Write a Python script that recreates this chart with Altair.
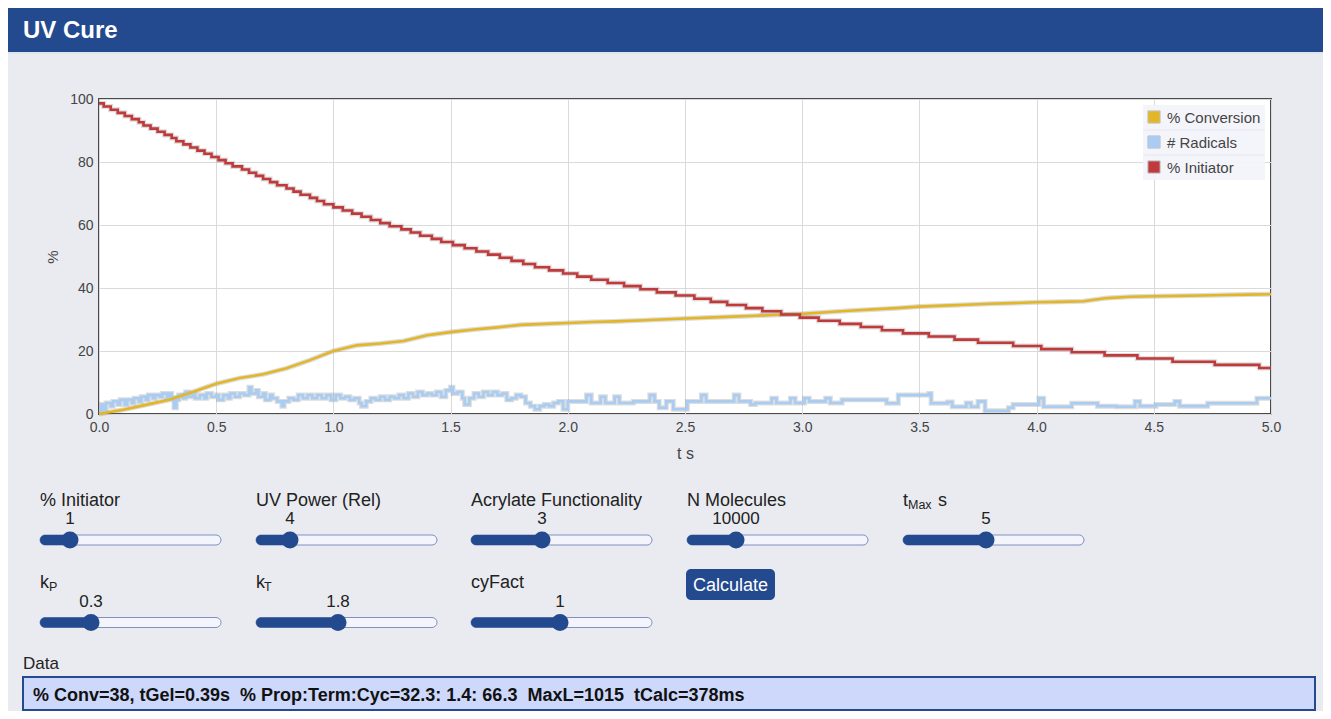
import altair as alt
import pandas as pd

# ---------------- data ----------------
series_names = ["% Conversion", "# Radicals", "% Initiator"]
series_colors = ["#e3b626", "#a8ccf2", "#c0393b"]

conv_points = [
    (0.0, 0.0), (0.1, 1.3), (0.2, 2.9), (0.3, 4.5), (0.4, 7.0), (0.5, 9.6),
    (0.6, 11.4), (0.7, 12.6), (0.8, 14.5), (0.9, 17.1), (1.0, 20.0),
    (1.1, 21.8), (1.2, 22.4), (1.3, 23.2), (1.4, 25.0), (1.5, 26.0),
    (1.6, 26.8), (1.7, 27.5), (1.8, 28.3), (1.9, 28.6), (2.0, 28.9),
    (2.1, 29.2), (2.2, 29.4), (2.3, 29.7), (2.4, 30.0), (2.5, 30.3),
    (2.6, 30.6), (2.7, 30.9), (2.8, 31.2), (2.9, 31.5), (3.0, 31.8),
    (3.1, 32.3), (3.2, 32.8), (3.3, 33.2), (3.4, 33.6), (3.5, 34.1),
    (3.6, 34.4), (3.7, 34.7), (3.8, 35.0), (3.9, 35.2), (4.0, 35.5),
    (4.1, 35.6), (4.2, 35.8), (4.3, 36.8), (4.4, 37.2), (4.5, 37.4),
    (4.6, 37.5), (4.7, 37.6), (4.8, 37.8), (4.9, 37.9), (5.0, 38.0),
]

rad_points = [
    (0.00, 1.0), (0.01, 3.0), (0.02, 1.5), (0.03, 3.5), (0.05, 2.5), (0.06, 4.0),
    (0.08, 3.0), (0.09, 4.5), (0.11, 3.0), (0.12, 4.5), (0.14, 3.5), (0.15, 5.0),
    (0.17, 4.0), (0.18, 5.5), (0.20, 4.5), (0.21, 6.0), (0.23, 5.0), (0.24, 6.0),
    (0.26, 5.5), (0.27, 6.5), (0.29, 5.0), (0.30, 6.5), (0.31, 5.0), (0.32, 2.0),
    (0.33, 4.5), (0.34, 6.0), (0.36, 5.0), (0.37, 7.0), (0.38, 5.5), (0.40, 6.5),
    (0.41, 5.0), (0.43, 6.0), (0.45, 5.0), (0.46, 6.5), (0.48, 5.5), (0.50, 6.0),
    (0.51, 4.5), (0.53, 6.0), (0.55, 5.0), (0.56, 6.5), (0.58, 5.5), (0.60, 6.5),
    (0.62, 6.0), (0.64, 8.5), (0.65, 6.5), (0.67, 7.5), (0.68, 5.5), (0.70, 6.5),
    (0.71, 4.5), (0.73, 6.0), (0.74, 5.0), (0.76, 4.0), (0.78, 2.5), (0.79, 4.0),
    (0.81, 5.0), (0.83, 4.5), (0.85, 6.0), (0.87, 5.0), (0.89, 6.0), (0.91, 5.0),
    (0.93, 6.0), (0.95, 5.0), (0.97, 6.0), (0.99, 4.5), (1.01, 6.0), (1.03, 5.0),
    (1.05, 5.5), (1.07, 4.5), (1.09, 5.0), (1.11, 3.5), (1.12, 2.5), (1.14, 4.0),
    (1.16, 5.0), (1.18, 4.5), (1.20, 5.5), (1.22, 4.5), (1.24, 5.5), (1.26, 5.0),
    (1.28, 6.0), (1.30, 5.0), (1.32, 6.5), (1.34, 5.5), (1.36, 7.0), (1.38, 6.0),
    (1.40, 6.5), (1.42, 6.0), (1.44, 7.0), (1.46, 5.5), (1.48, 7.5), (1.50, 8.5),
    (1.51, 6.5), (1.53, 7.0), (1.55, 5.0), (1.56, 3.0), (1.58, 5.0), (1.60, 6.5),
    (1.62, 5.5), (1.64, 7.0), (1.66, 6.0), (1.68, 7.0), (1.70, 6.0), (1.72, 6.5),
    (1.74, 4.5), (1.76, 5.0), (1.78, 6.0), (1.80, 5.5), (1.82, 3.5), (1.84, 2.5),
    (1.86, 1.5), (1.88, 2.5), (1.90, 3.0), (1.92, 2.5), (1.94, 3.5), (1.96, 4.0),
    (1.98, 1.5), (2.00, 4.0), (2.08, 6.0), (2.10, 3.5), (2.14, 5.5), (2.16, 3.5),
    (2.20, 5.5), (2.22, 3.5), (2.28, 4.0), (2.35, 6.0), (2.37, 4.0), (2.39, 2.0),
    (2.42, 4.0), (2.45, 1.5), (2.51, 4.0), (2.57, 6.0), (2.59, 4.0), (2.71, 6.0),
    (2.73, 4.0), (2.78, 3.0), (2.80, 3.5), (2.87, 5.0), (2.89, 3.5), (2.95, 5.0),
    (2.97, 3.5), (3.01, 5.0), (3.03, 4.0), (3.10, 5.0), (3.12, 3.5), (3.17, 4.5),
    (3.33, 4.5), (3.36, 3.4), (3.41, 6.0), (3.54, 6.5), (3.55, 3.4), (3.62, 3.8),
    (3.64, 2.3), (3.70, 3.5), (3.72, 2.3), (3.75, 4.0), (3.78, 1.0), (3.88, 2.0),
    (3.90, 3.0), (4.01, 5.0), (4.03, 2.3), (4.15, 3.4), (4.26, 2.5), (4.34, 2.3),
    (4.42, 4.0), (4.44, 2.5), (4.51, 3.0), (4.59, 4.0), (4.61, 2.5), (4.73, 3.4),
    (4.94, 5.0), (5.00, 5.0),
]

init_points = [
    (0.00, 98.6), (0.02, 97.6), (0.05, 96.6), (0.08, 95.6), (0.11, 94.6),
    (0.14, 93.6), (0.17, 92.6), (0.19, 91.6), (0.22, 90.6), (0.25, 89.6),
    (0.28, 88.6), (0.31, 87.6), (0.33, 86.6), (0.36, 85.6), (0.39, 84.6),
    (0.42, 83.6), (0.45, 82.6), (0.48, 81.6), (0.51, 80.6), (0.54, 79.6),
    (0.57, 78.6), (0.61, 77.6), (0.64, 76.6), (0.67, 75.6), (0.70, 74.6),
    (0.73, 73.6), (0.76, 72.6), (0.80, 71.6), (0.83, 70.6), (0.86, 69.6),
    (0.90, 68.6), (0.93, 67.6), (0.96, 66.6), (1.00, 65.6), (1.04, 64.6),
    (1.08, 63.6), (1.12, 62.6), (1.16, 61.6), (1.20, 60.6), (1.24, 59.6),
    (1.29, 58.6), (1.33, 57.6), (1.37, 56.6), (1.42, 55.6), (1.46, 54.6),
    (1.51, 53.6), (1.56, 52.6), (1.61, 51.6), (1.66, 50.6), (1.71, 49.6),
    (1.76, 48.6), (1.81, 47.6), (1.86, 46.6), (1.92, 45.6), (1.98, 44.6),
    (2.04, 43.6), (2.10, 42.6), (2.17, 41.6), (2.24, 40.6), (2.31, 39.6),
    (2.38, 38.6), (2.46, 37.6), (2.54, 36.6), (2.61, 35.6), (2.68, 34.6),
    (2.76, 33.6), (2.83, 32.6), (2.91, 31.6), (2.99, 30.6), (3.07, 29.6),
    (3.16, 28.6), (3.25, 27.6), (3.34, 26.6), (3.43, 25.6), (3.54, 24.6),
    (3.65, 23.6), (3.75, 22.6), (3.90, 21.6), (4.02, 20.6), (4.15, 19.6),
    (4.29, 18.6), (4.43, 17.6), (4.58, 16.6), (4.76, 15.6), (4.95, 14.6),
    (5.00, 14.6),
]

x_ticks = [0, 0.5, 1, 1.5, 2, 2.5, 3, 3.5, 4, 4.5, 5]
y_ticks = [0, 20, 40, 60, 80, 100]

page_title = "UV Cure"
slider_labels = ["% Initiator", "UV Power (Rel)", "Acrylate Functionality",
                 "N Molecules", "t", "k", "k", "cyFact"]
slider_subs = ["", "", "", "", "Max", "P", "T", ""]
slider_suffix = ["", "", "", "", "s", "", "", ""]
slider_values = ["1", "4", "3", "10000", "5", "0.3", "1.8", "1"]
button_text = "Calculate"
data_label = "Data"
data_text = "% Conv=38, tGel=0.39s\u00a0 % Prop:Term:Cyc=32.3: 1.4: 66.3\u00a0 MaxL=1015\u00a0 tCalc=378ms"

# ---------------- layout (page pixels) ----------------
OX, OY = 99, 99                 # page position of the plot origin
PLOT_W, PLOT_H = 1172, 315
TOTAL_W, TOTAL_H = 1315, 703
PAD_L, PAD_T = OX - 8, OY - 8

BLUE = "#234a8f"
FONT = "Liberation Sans"

slider_x0 = [40, 256, 471, 687, 903, 40, 256, 471]
slider_row = [0, 0, 0, 0, 0, 1, 1, 1]
slider_thumb = [70, 290, 542, 736, 986, 91, 338, 560]
sub_dx = [0, 0, 0, 0, 5, 9, 8, 0]
suffix_dx = [0, 0, 0, 0, 35, 0, 0, 0]
TRACK_W = 181
row_label_y = [506, 588]
row_value_y = [524, 606.5]
row_track_y = [540, 622.5]


def px(v):
    return v - OX


def py(v):
    return v - OY


# ---------------- chart data ----------------
rows = []
for name, pts in zip(series_names, [conv_points, rad_points, init_points]):
    for t, v in pts:
        rows.append({"t": t, "v": v, "series": name})
df = pd.DataFrame(rows)

color_scale = alt.Scale(domain=series_names, range=series_colors)

x_enc = alt.X(
    "t:Q",
    scale=alt.Scale(domain=[0, 5], nice=False, zero=False),
    axis=alt.Axis(values=x_ticks, format=".1f", title="t s", grid=True,
                  domain=False, ticks=False, labelPadding=6, titlePadding=11,
                  labelFlush=False, labelOverlap=False,
                  labelFontSize=14, titleFontSize=16, labelColor="#444",
                  titleColor="#444", titleFontWeight="normal",
                  gridColor="#dadada", labelFont=FONT, titleFont=FONT),
)
y_enc = alt.Y(
    "v:Q",
    scale=alt.Scale(domain=[0, 100], nice=False),
    axis=alt.Axis(values=y_ticks, title="%", grid=True, domain=False,
                  ticks=False, labelPadding=6, titlePadding=9,
                  labelFlush=False, labelOverlap=False,
                  labelFontSize=14, titleFontSize=15, labelColor="#444",
                  titleColor="#444", titleFontWeight="normal",
                  gridColor="#dadada", labelFont=FONT, titleFont=FONT),
)
color_enc = alt.Color("series:N", scale=color_scale, legend=None)

base = alt.Chart(df)


def series_layer(name, interp, halo=False):
    c = base.transform_filter(alt.datum.series == name)
    if halo:
        return c.mark_line(interpolate=interp, strokeWidth=5, color="#666",
                           opacity=0.22).encode(x=x_enc, y=y_enc)
    return c.mark_line(interpolate=interp, strokeWidth=2.6).encode(
        x=x_enc, y=y_enc, color=color_enc)


line_layers = [
    series_layer("# Radicals", "step-after", True),
    series_layer("% Conversion", "linear", True),
    series_layer("% Initiator", "step-after", True),
    series_layer("# Radicals", "step-after"),
    series_layer("% Conversion", "linear"),
    series_layer("% Initiator", "step-after"),
]

XP = alt.X("x:Q", scale=None, axis=None)
YP = alt.Y("y:Q", scale=None, axis=None)
X2P = alt.X2("x2:Q")
Y2P = alt.Y2("y2:Q")


def rect_layer(records, **kw):
    return alt.Chart(pd.DataFrame(records)).mark_rect(**kw).encode(
        x=XP, x2=X2P, y=YP, y2=Y2P)


def text_layer(records, **kw):
    kw.setdefault("font", FONT)
    kw.setdefault("baseline", "alphabetic")
    return alt.Chart(pd.DataFrame(records)).mark_text(**kw).encode(
        x=XP, y=YP, text="text:N")


# legend (custom, inside plot)
leg_y = [117, 142, 167]
legend_box = rect_layer([{"x": px(1143), "x2": px(1265), "y": py(105), "y2": py(180)}],
                        fill="#f3f3fb", opacity=0.95)
legend_sep = rect_layer([{"x": px(1143), "x2": px(1265), "y": py(129.5), "y2": py(130.5)},
                         {"x": px(1143), "x2": px(1265), "y": py(154.5), "y2": py(155.5)}],
                        fill="#e6e6f0")
legend_sq = alt.Chart(pd.DataFrame({
    "series": series_names,
    "x": [px(1154)] * 3,
    "y": [py(v) for v in leg_y],
})).mark_square(size=150, opacity=1, stroke="#c4c4cc", strokeWidth=1).encode(
    x=XP, y=YP, color=color_enc)
legend_txt = text_layer([{"text": s, "x": px(1167), "y": py(v + 5.5)}
                         for s, v in zip(series_names, leg_y)],
                        fontSize=15, color="#444", align="left")

# header
header = rect_layer([{"x": px(8), "x2": px(8 + TOTAL_W), "y": py(8), "y2": py(52)}],
                    fill=BLUE)
header_line = rect_layer([{"x": px(8), "x2": px(8 + TOTAL_W), "y": py(52), "y2": py(54)}],
                         fill="#dfe4ee")
header_txt = text_layer([{"text": page_title, "x": px(23), "y": py(38)}],
                        fontSize=24, fontWeight="bold", color="white", align="left")

# sliders
track_recs, fill_recs, thumb_recs = [], [], []
lab_recs, sub_recs, suf_recs, val_recs = [], [], [], []
for i in range(len(slider_labels)):
    r = slider_row[i]
    x0 = slider_x0[i]
    cy = row_track_y[r]
    track_recs.append({"x": px(x0), "x2": px(x0 + TRACK_W), "y": py(cy - 5), "y2": py(cy + 5)})
    fill_recs.append({"x": px(x0), "x2": px(slider_thumb[i]), "y": py(cy - 5), "y2": py(cy + 5)})
    thumb_recs.append({"x": px(slider_thumb[i]), "y": py(cy)})
    lab_recs.append({"text": slider_labels[i], "x": px(x0), "y": py(row_label_y[r])})
    if slider_subs[i]:
        sub_recs.append({"text": slider_subs[i], "x": px(x0 + sub_dx[i]), "y": py(row_label_y[r] + 3)})
    if slider_suffix[i]:
        suf_recs.append({"text": slider_suffix[i], "x": px(x0 + suffix_dx[i]), "y": py(row_label_y[r])})
    val_recs.append({"text": slider_values[i], "x": px(slider_thumb[i]), "y": py(row_value_y[r])})

tracks = rect_layer(track_recs, fill="#f4f4fc", stroke="#7f90c2", strokeWidth=1, cornerRadius=5)
fills = rect_layer(fill_recs, fill=BLUE, cornerRadius=5)
thumbs = alt.Chart(pd.DataFrame(thumb_recs)).mark_circle(
    size=290, color=BLUE, opacity=1).encode(x=XP, y=YP)
labels = text_layer(lab_recs, fontSize=18, color="#222", align="left")
subs = text_layer(sub_recs, fontSize=12.5, color="#222", align="left")
sufs = text_layer(suf_recs, fontSize=18, color="#222", align="left")
vals = text_layer(val_recs, fontSize=17, color="#222", align="center")

button = rect_layer([{"x": px(686), "x2": px(775), "y": py(569), "y2": py(600)}],
                    fill=BLUE, cornerRadius=5)
button_txt = text_layer([{"text": button_text, "x": px(730.5), "y": py(591)}],
                        fontSize=18, color="white", align="center")

data_lab = text_layer([{"text": data_label, "x": px(23), "y": py(669)}],
                      fontSize=17, color="#222", align="left")
data_box = rect_layer([{"x": px(23), "x2": px(1315), "y": py(677), "y2": py(710)}],
                      fill="#cdd8fb", stroke=BLUE, strokeWidth=2)
data_txt = text_layer([{"text": data_text, "x": px(33), "y": py(701)}],
                      fontSize=18, fontWeight="bold", color="#111", align="left")

chart = alt.layer(
    *line_layers,
    legend_box, legend_sep, legend_sq, legend_txt,
    header, header_line, header_txt,
    tracks, fills, thumbs, labels, subs, sufs, vals,
    button, button_txt, data_lab, data_box, data_txt,
).properties(
    width=PLOT_W,
    height=PLOT_H,
    autosize=alt.AutoSizeParams(type="none"),
    padding={"left": PAD_L, "top": PAD_T,
             "right": TOTAL_W - PAD_L - PLOT_W,
             "bottom": TOTAL_H - PAD_T - PLOT_H},
).configure(
    background="#e9ebf0",
    font=FONT,
).configure_view(
    fill="white",
    stroke="#4a4a4a",
    strokeWidth=2,
)

chart.save("out.html", embed_options={"renderer": "svg", "actions": False})
